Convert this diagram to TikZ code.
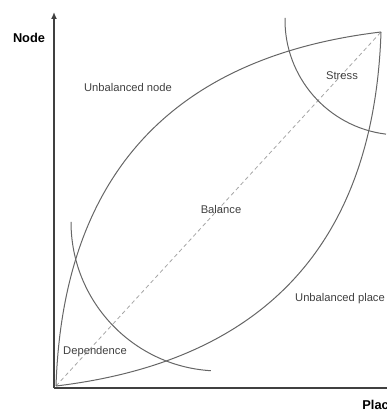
\documentclass[tikz,border=0pt]{standalone}
\usepackage{fontspec}
\setmainfont{Liberation Sans}
\usetikzlibrary{arrows.meta}

\begin{document}
\begin{tikzpicture}[
  x=0.5pt, y=0.5pt,
  axis/.style  = {-{Latex[length=3.5pt,width=3pt]}, line width=0.9pt, black!75},
  curve/.style = {line width=0.5pt, black!60},
  diag/.style  = {line width=0.4pt, black!35, dash pattern=on 2pt off 1.5pt},
  lab/.style   = {font=\fontsize{5.6}{6}\selectfont, text=black!75, inner sep=0pt},
  axlab/.style = {font=\fontsize{6.4}{7}\selectfont\bfseries, inner sep=0pt}
]
\useasboundingbox (0,0) rectangle (386,410);

% ================= axes =================
\coordinate (O)  at (54,22);
\coordinate (Yt) at (54,398);
\coordinate (Xt) at (420,22);
\draw[axis] (O) -- (Yt);
\draw[axis] (O) -- (Xt);
\node[axlab] (ylab) at (29,372) {Node};
\node[axlab, anchor=west] (xlab) at (362,5) {Place};

% ================= lens and diagonal =================
\coordinate (A) at (56,24);
\coordinate (B) at (381,378);
\draw[diag]  (A) -- (B);
\draw[curve] (A) .. controls (63,235) and (172,353) .. (B);
\draw[curve] (A) .. controls (265,49) and (374,167) .. (B);

% ================= arcs =================
\coordinate (S0) at (285,392);
\coordinate (D0) at (71,188);
\draw[curve] (S0) arc[start angle=179, end angle=263, radius=115];
\draw[curve] (D0) arc[start angle=180, end angle=266.5, radius=149];

% ================= labels =================
\node[lab] (unode)  at (128,322) {Unbalanced node};
\node[lab] (stress) at (342,334) {Stress};
\node[lab] (bal)    at (221,200) {Balance};
\node[lab] (uplace) at (340,111) {Unbalanced place};
\node[lab] (dep)    at (95,58)   {Dependence};

\end{tikzpicture}
\end{document}
